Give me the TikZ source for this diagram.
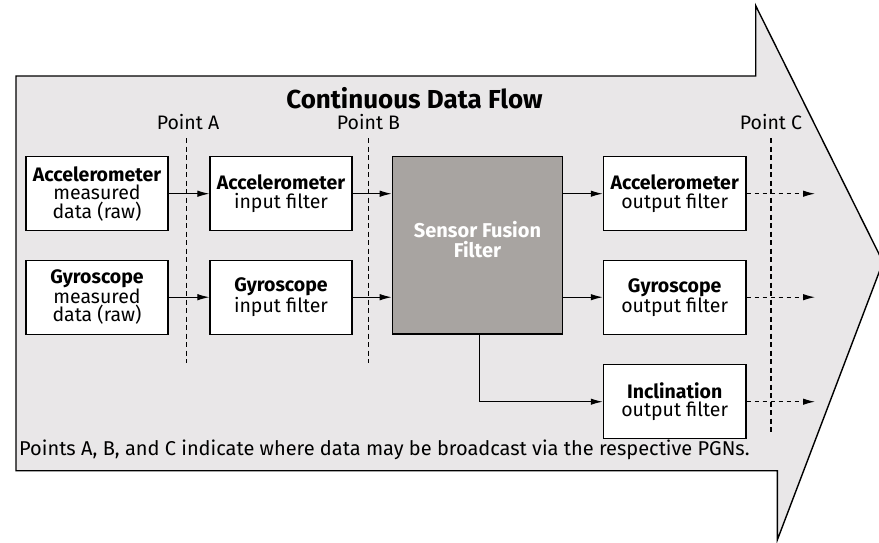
\documentclass[tikz,border=0pt]{standalone}
\usepackage{fontspec}
\setmainfont{Fira Sans}
\usetikzlibrary{arrows.meta}
\definecolor{flowbg}{HTML}{E9E7E8}
\definecolor{fusionbg}{HTML}{A8A4A1}
\tikzset{
  box/.style={draw=black, line width=1.2pt, fill=white, minimum width=142pt, minimum height=74pt, align=center, inner sep=0pt, font=\fontsize{19.5}{18.5}\selectfont},
  flow/.style={line width=1.1pt, -{Latex[length=12pt,width=6.5pt]}},
  outflow/.style={line width=1.1pt, dash pattern=on 4pt off 4pt, -{Latex[length=12pt,width=6.5pt]}},
  pointline/.style={line width=1.2pt, dash pattern=on 5pt off 3.5pt},
  ptlabel/.style={font=\fontsize{19.5}{20}\selectfont, inner sep=0pt}
}
\begin{document}
\begin{tikzpicture}[x=1pt,y=-1pt]
\useasboundingbox (0,0) rectangle (879,542);
\clip (0,0) rectangle (879,542);
% big arrow
\draw[line width=1.4pt, fill=flowbg, line join=miter]
  (16,76) -- (755.7,76) -- (755.7,5.7) -- (883,262) -- (777.3,540) -- (777.3,470.7) -- (16,470.7) -- cycle;
% title
\node[font=\bfseries\fontsize{26}{28}\selectfont, inner sep=0pt] (title) at (414.5,98) {Continuous Data Flow};
% point labels and lines
\node[ptlabel] (pA) at (188,122.5) {Point A};
\node[ptlabel] (pB) at (368.5,122.5) {Point B};
\node[ptlabel] (pC) at (771,122.5) {Point C};
\coordinate (pAt) at (186.7,138);
\coordinate (pAb) at (186.7,363);
\coordinate (pBt) at (368.3,138);
\coordinate (pBb) at (368.3,363);
\coordinate (pCt) at (771,138);
\coordinate (pCb) at (771,432);
\draw[pointline] (pAt) -- (pAb);
\draw[pointline] (pBt) -- (pBb);
\draw[pointline] (pCt) -- (pCb);
% boxes
\node[box] (am) at (97,193.7) {\textbf{Accelerometer}\\measured\\data (raw)};
\node[box] (ai) at (281,193.7) {\textbf{Accelerometer}\\input filter};
\node[box] (gm) at (97,297.2) {\textbf{Gyroscope}\\measured\\data (raw)};
\node[box] (gi) at (281,297.2) {\textbf{Gyroscope}\\input filter};
\node[box, fill=fusionbg, minimum width=170.4pt, minimum height=177.3pt] (sf) at (477.5,245.4) {};
\node[font=\bfseries\fontsize{20}{19.5}\selectfont, text=white, align=center, inner sep=0pt] (sft) at (477.5,239.5) {Sensor Fusion\\Filter};
\node[box, minimum width=142.7pt] (ao) at (674.7,193.7) {\textbf{Accelerometer}\\output filter};
\node[box, minimum width=142.7pt] (go) at (674.7,297.2) {\textbf{Gyroscope}\\output filter};
\node[box, minimum width=142.7pt] (io) at (674.7,401.7) {\textbf{Inclination}\\output filter};
% connectors
\draw[flow] (am) -- (ai);
\draw[flow] (gm) -- (gi);
\draw[flow] (ai.east) -- (sf.west |- ai.east);
\draw[flow] (gi.east) -- (sf.west |- gi.east);
\draw[flow] (sf.east |- ao.west) -- (ao.west);
\draw[flow] (sf.east |- go.west) -- (go.west);
\draw[flow] (sf.south -| 479.5,0) |- (io.west);
\coordinate (ao2) at (815,193.7);
\coordinate (go2) at (815,297.2);
\coordinate (io2) at (815,401.7);
\draw[outflow] (ao.east) -- (ao2);
\draw[outflow] (go.east) -- (go2);
\draw[outflow] (io.east) -- (io2);
% footer
\node[anchor=base west, font=\fontsize{20}{22}\selectfont, inner sep=0pt] (foot) at (19,455) {Points A, B, and C indicate where data may be broadcast via the respective PGNs.};
\end{tikzpicture}
\end{document}
